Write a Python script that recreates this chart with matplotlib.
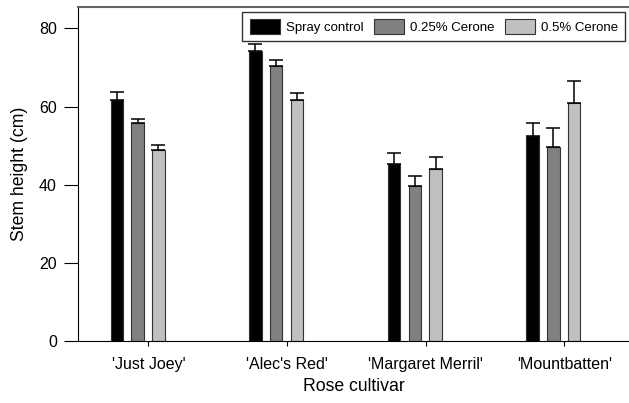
import numpy as np
import matplotlib
matplotlib.use("Agg")
import matplotlib.pyplot as plt

plt.rcParams['font.family'] = ['Liberation Sans', 'DejaVu Sans']

# Data
cultivars = ["'Just Joey'", "'Alec's Red'", "'Margaret Merril'", "'Mountbatten'"]
treatments = ['Spray control', '0.25% Cerone', '0.5% Cerone']
spray_control = [61.8, 74.2, 45.3, 52.4]
cerone_025 = [55.8, 70.3, 39.7, 49.7]
cerone_05 = [48.8, 61.6, 44.0, 60.9]
err_control = [1.9, 1.7, 2.7, 3.4]
err_025 = [1.0, 1.7, 2.5, 4.9]
err_05 = [1.3, 1.9, 3.1, 5.6]

colors = ['#000000', '#808080', '#c0c0c0']

fig = plt.figure(figsize=(6.29, 4.03), dpi=100)
ax = fig.add_axes([0.1248, 0.1538, 0.8752, 0.828])

x = np.arange(len(cultivars))
width = 0.09
step = 0.15
series = [spray_control, cerone_025, cerone_05]
errors = [err_control, err_025, err_05]
for i, (vals, errs) in enumerate(zip(series, errors)):
    ax.bar(x + (i - 1) * step, vals, width, color=colors[i], edgecolor='#333333',
           linewidth=0.8, label=treatments[i], zorder=2,
           yerr=[np.zeros(len(errs)), errs],
           error_kw=dict(ecolor='black', elinewidth=1.1, capsize=5, capthick=1.1))

ax.set_xlim(-0.426, 3.545)
ax.set_ylim(0, 85.4)
ax.set_yticks([0, 20, 40, 60, 80])
ax.set_xticks(x + 0.078)
ax.set_xticklabels(cultivars, fontsize=11.5)
ax.tick_params(axis='y', labelsize=11.5, direction='out', length=10, width=0.8, pad=5.5)
ax.tick_params(axis='x', direction='out', length=3.6, width=0.8, pad=8)

ax.spines['right'].set_visible(False)
ax.spines['top'].set_color('#666666')
ax.spines['top'].set_linewidth(1.5)
ax.spines['left'].set_linewidth(0.8)
ax.spines['bottom'].set_linewidth(0.8)

ax.set_xlabel('Rose cultivar', fontsize=12.7, labelpad=4)
ax.set_ylabel('Stem height (cm)', fontsize=12.7, labelpad=8)

leg = ax.legend(loc='upper right', bbox_to_anchor=(625 / 629, 1 - 11.7 / 403),
                bbox_transform=fig.transFigure, borderaxespad=0, ncol=3,
                fontsize=9.5, frameon=True, fancybox=False, edgecolor='black',
                handlelength=2.27, handleheight=1.36, columnspacing=0.8,
                handletextpad=0.45, borderpad=0.55)
leg.get_frame().set_linewidth(1.0)

fig.savefig('out.png', dpi=100)
